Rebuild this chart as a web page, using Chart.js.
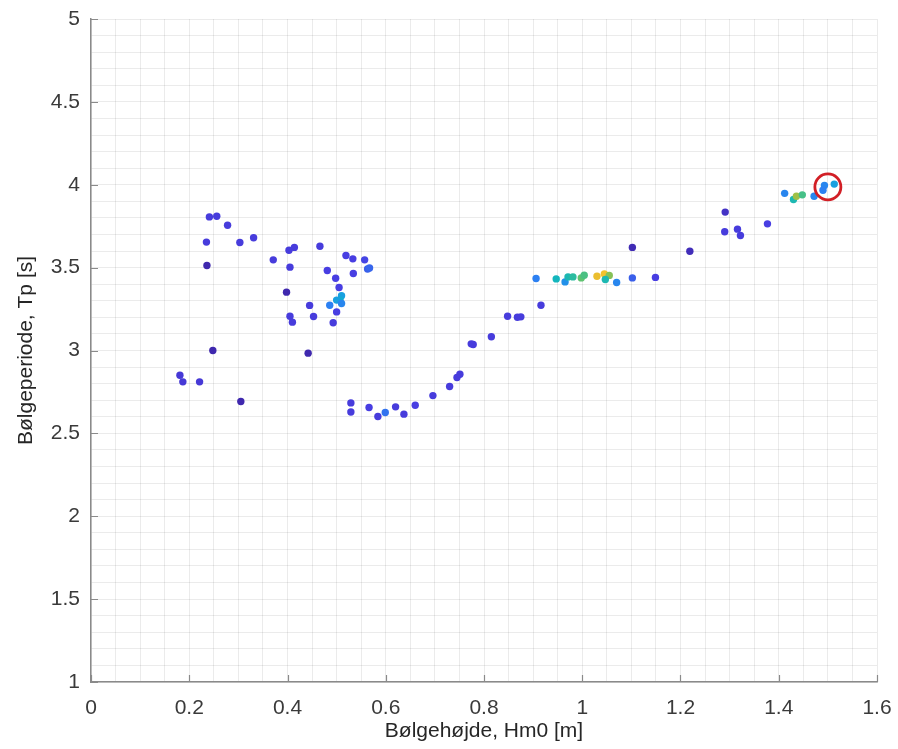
<!DOCTYPE html>
<html>
<head>
<meta charset="utf-8">
<title>Bølgehøjde og bølgeperiode</title>
<script src="https://cdn.jsdelivr.net/npm/chart.js@4/dist/chart.umd.min.js"></script>
<style>
  html, body { margin: 0; padding: 0; background: #fff; }
  #wrap { width: 898px; height: 749px; }
</style>
</head>
<body>
<div id="wrap"><canvas id="scatter" width="898" height="749"></canvas></div>
<script>
// Significant wave height Hm0 [m]
const hm0 = [
  0.241, 0.256, 0.278, 0.235, 0.303, 0.331, 0.236, 0.371, 0.403, 0.414,
  0.466, 0.405, 0.519, 0.533, 0.557, 0.563, 0.567, 0.481, 0.534, 0.498,
  0.505, 0.398, 0.510, 0.507, 0.500, 0.510, 0.486, 0.445, 0.405, 0.410,
  0.453, 0.500, 0.493, 0.248, 0.442, 0.181, 0.187, 0.221, 0.305,
  0.529, 0.529, 0.566, 0.584, 0.599, 0.620, 0.637, 0.660, 0.696, 0.730,
  0.745, 0.751, 0.774, 0.778, 0.815, 0.848, 0.868, 0.875, 0.916,
  0.906, 0.947, 0.965, 0.971, 0.981, 0.998, 1.004, 1.030, 1.045, 1.055,
  1.047, 1.070, 1.102, 1.149, 1.102, 1.219, 1.290, 1.291, 1.316, 1.322,
  1.377, 1.412, 1.430, 1.436, 1.448, 1.472, 1.493, 1.490, 1.513
];
// Peak period Tp [s]
const tp = [
  3.806, 3.810, 3.756, 3.654, 3.652, 3.680, 3.513, 3.547, 3.605, 3.622,
  3.629, 3.503, 3.573, 3.553, 3.547, 3.492, 3.498, 3.483, 3.465, 3.436,
  3.380, 3.352, 3.330, 3.304, 3.304, 3.284, 3.273, 3.272, 3.207, 3.171,
  3.205, 3.233, 3.167, 3.000, 2.984, 2.851, 2.811, 2.811, 2.692,
  2.684, 2.629, 2.656, 2.602, 2.626, 2.660, 2.616, 2.670, 2.728, 2.783,
  2.837, 2.857, 3.040, 3.036, 3.083, 3.207, 3.201, 3.203, 3.273,
  3.434, 3.432, 3.414, 3.444, 3.444, 3.438, 3.454, 3.448, 3.462, 3.453,
  3.428, 3.410, 3.438, 3.441, 3.622, 3.599, 3.716, 3.835, 3.732, 3.694,
  3.764, 3.948, 3.911, 3.931, 3.939, 3.931, 3.996, 3.967, 4.004
];
// Colour value of each point (0..1 along the colour map)
const level = [
  0.09, 0.09, 0.09, 0.09, 0.09, 0.09, 0.01, 0.09, 0.09, 0.09,
  0.09, 0.09, 0.10, 0.10, 0.11, 0.15, 0.16, 0.10, 0.10, 0.10,
  0.10, 0.01, 0.30, 0.36, 0.30, 0.22, 0.20, 0.09, 0.09, 0.09,
  0.09, 0.10, 0.09, 0.01, 0.01, 0.08, 0.08, 0.08, 0.01,
  0.09, 0.09, 0.10, 0.09, 0.18, 0.09, 0.09, 0.10, 0.09, 0.09,
  0.09, 0.09, 0.09, 0.09, 0.09, 0.09, 0.09, 0.09, 0.09,
  0.20, 0.42, 0.25, 0.45, 0.50, 0.60, 0.56, 0.85, 0.88, 0.66,
  0.45, 0.22, 0.15, 0.10, 0.02, 0.03, 0.09, 0.05, 0.09, 0.09,
  0.10, 0.22, 0.45, 0.70, 0.55, 0.22, 0.22, 0.20, 0.30
];
// Marked observation
const markHm0 = [1.500];
const markTp = [3.987];

const xTickLabels = [0, 0.2, 0.4, 0.6, 0.8, 1, 1.2, 1.4, 1.6];
const yTickLabels = [1, 1.5, 2, 2.5, 3, 3.5, 4, 4.5, 5];

// parula-like colour map
const stops = [
  [0.00, [62, 38, 168]],
  [0.10, [72, 62, 226]],
  [0.20, [44, 128, 242]],
  [0.30, [24, 160, 224]],
  [0.40, [14, 180, 196]],
  [0.50, [44, 188, 160]],
  [0.60, [95, 195, 112]],
  [0.70, [160, 192, 70]],
  [0.80, [220, 184, 50]],
  [0.90, [250, 196, 44]],
  [1.00, [249, 251, 14]]
];
function colourFor(v) {
  for (let i = 1; i < stops.length; i++) {
    if (v <= stops[i][0]) {
      const [a, ca] = stops[i - 1], [b, cb] = stops[i];
      const t = (v - a) / (b - a);
      const c = ca.map((k, j) => Math.round(k + (cb[j] - k) * t));
      return `rgb(${c[0]},${c[1]},${c[2]})`;
    }
  }
  const c = stops[stops.length - 1][1];
  return `rgb(${c[0]},${c[1]},${c[2]})`;
}

function isLabelled(v, list) {
  return list.some(t => Math.abs(t - v) < 1e-6);
}
function fmt(v) {
  return String(Math.round(v * 10) / 10);
}

// MATLAB style inward tick marks at the labelled values
const inwardTicks = {
  id: 'inwardTicks',
  afterDatasetsDraw(chart) {
    const {ctx, chartArea, scales: {x, y}} = chart;
    ctx.save();
    ctx.strokeStyle = '#8a8a8a';
    ctx.lineWidth = 1.2;
    ctx.beginPath();
    xTickLabels.forEach(v => {
      const px = Math.round(x.getPixelForValue(v)) + 0.5;
      ctx.moveTo(px, chartArea.bottom);
      ctx.lineTo(px, chartArea.bottom - 7);
    });
    yTickLabels.forEach(v => {
      const py = Math.round(y.getPixelForValue(v)) + 0.5;
      ctx.moveTo(chartArea.left, py);
      ctx.lineTo(chartArea.left + 7, py);
    });
    ctx.stroke();
    ctx.restore();
  }
};

const points = hm0.map((h, i) => ({x: h, y: tp[i]}));
const marked = markHm0.map((h, i) => ({x: h, y: markTp[i]}));

const gridColor = 'rgba(0,0,0,0.08)';
const tickFont = {family: 'Liberation Sans, Arial, sans-serif', size: 21};
const titleFont = {family: 'Liberation Sans, Arial, sans-serif', size: 21};

new Chart(document.getElementById('scatter'), {
  type: 'scatter',
  data: {
    datasets: [
      {
        data: marked,
        pointRadius: 13,
        pointBorderWidth: 2.8,
        pointBorderColor: '#d21f26',
        pointBackgroundColor: 'rgba(0,0,0,0)'
      },
      {
        data: points,
        pointRadius: 3.7,
        pointBorderWidth: 0,
        pointBackgroundColor: level.map(colourFor)
      }
    ]
  },
  options: {
    responsive: false,
    animation: false,
    events: [],
    layout: {padding: {left: 0, top: 19, right: 21, bottom: 0}},
    plugins: {legend: {display: false}, tooltip: {enabled: false}},
    scales: {
      x: {
        type: 'linear',
        min: 0,
        max: 1.6,
        afterFit(s) {
          s.height = 67;
          s.paddingLeft = 0;
          s.paddingRight = 0;
        },
        border: {color: '#8a8a8a', width: 1.5},
        grid: {color: gridColor, drawTicks: false},
        ticks: {
          stepSize: 0.05,
          autoSkip: false,
          maxRotation: 0,
          padding: 14,
          color: '#3a3a3a',
          font: tickFont,
          callback: v => isLabelled(v, xTickLabels) ? fmt(v) : ''
        },
        title: {
          display: true,
          text: 'Bølgehøjde, Hm0 [m]',
          color: '#262626',
          font: titleFont,
          padding: {top: 0, bottom: 5}
        }
      },
      y: {
        type: 'linear',
        min: 1,
        max: 5,
        afterFit(s) {
          s.width = 91;
          s.paddingTop = 0;
          s.paddingBottom = 0;
        },
        border: {color: '#8a8a8a', width: 1.5},
        grid: {color: gridColor, drawTicks: false},
        ticks: {
          stepSize: 0.1,
          autoSkip: false,
          padding: 11,
          color: '#3a3a3a',
          font: tickFont,
          callback: v => isLabelled(v, yTickLabels) ? fmt(v) : ''
        },
        title: {
          display: true,
          text: 'Bølgeperiode, Tp [s]',
          color: '#262626',
          font: titleFont,
          padding: {top: 14, bottom: 0}
        }
      }
    }
  },
  plugins: [inwardTicks]
});
</script>
</body>
</html>
